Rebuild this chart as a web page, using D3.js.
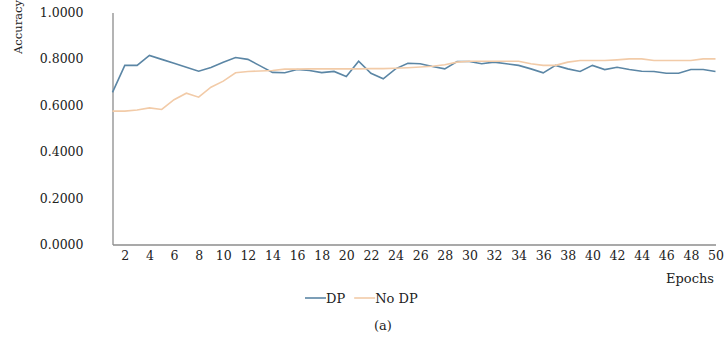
<!DOCTYPE html>
<html lang="en">
<head>
    <meta charset="UTF-8">
    <title>Accuracy vs Epochs</title>
    <script src="https://cdn.jsdelivr.net/npm/d3@7"></script>
    <style>
        body { margin: 0; background: #fff; }
        text { font-family: "DejaVu Serif", serif; fill: #222; }
    </style>
</head>
<body>
<script>
    // data
    var epochs = d3.range(1, 51);
    var dp = [0.656, 0.772, 0.772, 0.815, 0.798, 0.781, 0.764, 0.747, 0.763, 0.786,
              0.806, 0.798, 0.770, 0.742, 0.740, 0.754, 0.750, 0.741, 0.746, 0.724,
              0.790, 0.738, 0.714, 0.757, 0.781, 0.779, 0.767, 0.757, 0.789, 0.789,
              0.779, 0.786, 0.779, 0.772, 0.757, 0.740, 0.772, 0.757, 0.746, 0.772,
              0.754, 0.764, 0.754, 0.747, 0.746, 0.738, 0.738, 0.754, 0.754, 0.746];
    var noDp = [0.575, 0.575, 0.580, 0.589, 0.582, 0.624, 0.652, 0.635, 0.678, 0.704,
                0.740, 0.746, 0.748, 0.750, 0.756, 0.756, 0.757, 0.757, 0.757, 0.757,
                0.757, 0.758, 0.758, 0.760, 0.762, 0.765, 0.768, 0.775, 0.786, 0.790,
                0.790, 0.790, 0.790, 0.790, 0.779, 0.772, 0.772, 0.786, 0.793, 0.793,
                0.793, 0.796, 0.800, 0.800, 0.793, 0.793, 0.793, 0.793, 0.800, 0.800];
    var yTicks = [0, 0.2, 0.4, 0.6, 0.8, 1.0];
    var xTicks = d3.range(2, 51, 2);
    var seriesNames = ["DP", "No DP"];
    var colors = ["#5b86a5", "#f2cba8"];

    var width = 726, height = 341;
    var svg = d3.select("body").append("svg")
        .attr("width", width)
        .attr("height", height);

    var x = d3.scalePoint().domain(epochs).range([112.5, 715.5]);
    var y = d3.scaleLinear().domain([0, 1]).range([244.5, 12.5]);

    // y axis
    var yAxis = svg.append("g")
        .attr("transform", "translate(112.5,0)")
        .call(d3.axisLeft(y).tickValues(yTicks).tickFormat(d3.format(".4f")).tickSize(0).tickPadding(29));
    yAxis.select(".domain").attr("stroke", "#8c8c8c").attr("stroke-width", 1.3);
    yAxis.selectAll("text").style("font-size", "12.5px").attr("fill", "#222");

    // x axis
    var xAxis = svg.append("g")
        .attr("transform", "translate(0,244.5)")
        .call(d3.axisBottom(x).tickValues(xTicks).tickSize(0).tickPadding(7));
    xAxis.select(".domain").attr("stroke", "#8c8c8c").attr("stroke-width", 1.3);
    xAxis.selectAll("text").style("font-size", "12.5px").attr("fill", "#222");

    // lines
    var line = d3.line()
        .x(function (d, i) { return x(epochs[i]); })
        .y(function (d) { return y(d); });

    [dp, noDp].forEach(function (s, k) {
        svg.append("path")
            .datum(s)
            .attr("fill", "none")
            .attr("stroke", colors[k])
            .attr("stroke-width", 1.6)
            .attr("d", line);
    });

    // axis titles
    svg.append("text")
        .attr("transform", "translate(22,27) rotate(-90)")
        .attr("text-anchor", "middle")
        .style("font-size", "11.5px")
        .text("Accuracy");

    svg.append("text")
        .attr("x", 714)
        .attr("y", 283)
        .attr("text-anchor", "end")
        .style("font-size", "13px")
        .text("Epochs");

    // legend
    var legend = svg.append("g").attr("transform", "translate(305,298)");
    var lx = 0;
    seriesNames.forEach(function (name, k) {
        legend.append("line")
            .attr("x1", lx).attr("x2", lx + 21)
            .attr("y1", 0).attr("y2", 0)
            .attr("stroke", colors[k])
            .attr("stroke-width", 1.6);
        var t = legend.append("text")
            .attr("x", lx + 21)
            .attr("y", 4.5)
            .style("font-size", "13px")
            .text(name);
        lx += 21 + t.node().getComputedTextLength() + 9;
    });

    svg.append("text")
        .attr("x", 383)
        .attr("y", 330)
        .attr("text-anchor", "middle")
        .style("font-size", "13px")
        .text("(a)");
</script>
</body>
</html>
